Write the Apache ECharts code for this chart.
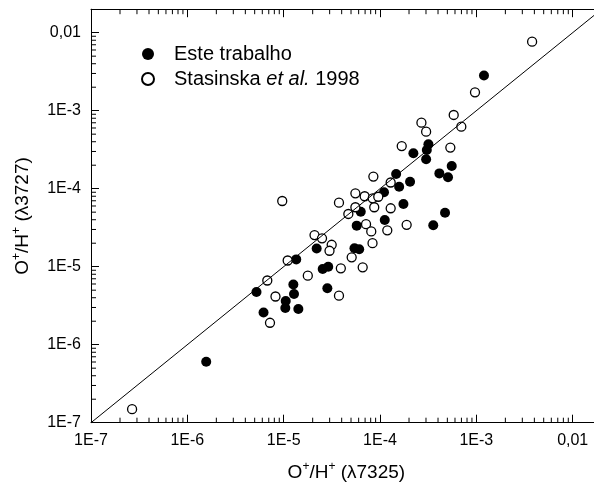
<!DOCTYPE html>
<html><head><meta charset="utf-8">
<script src="https://cdn.jsdelivr.net/npm/echarts@6/dist/echarts.min.js"></script>
<style>html,body{margin:0;padding:0;background:#fff;overflow:hidden}#c{width:594px;height:486px;overflow:hidden}</style>
</head><body><div id="c"></div>
<script>
// Este trabalho (filled)
const esteX = [1.20e-3, 3.18e-4, 3.06e-4, 2.22e-4, 3.01e-4, 5.55e-4, 4.13e-4, 5.08e-4, 1.47e-4, 2.05e-4,
  1.58e-4, 1.10e-4, 1.75e-4, 1.12e-4, 3.57e-4, 4.73e-4, 6.31e-5, 5.73e-5, 2.20e-5, 5.43e-5,
  6.08e-5, 1.35e-5, 2.54e-5, 2.90e-5, 1.26e-5, 1.28e-5, 2.84e-5, 5.22e-6, 1.05e-5, 1.04e-5,
  1.42e-5, 6.18e-6, 1.57e-6];
const esteY = [2.82e-3, 3.71e-4, 3.13e-4, 2.84e-4, 2.38e-4, 1.95e-4, 1.57e-4, 1.40e-4, 1.54e-4, 1.23e-4,
  1.06e-4, 9.0e-5, 6.37e-5, 3.97e-5, 3.40e-5, 4.92e-5, 5.07e-5, 3.36e-5, 1.71e-5, 1.72e-5,
  1.67e-5, 1.24e-5, 9.35e-6, 1.0e-5, 5.91e-6, 4.47e-6, 5.30e-6, 4.74e-6, 3.63e-6, 2.96e-6,
  2.87e-6, 2.59e-6, 6.05e-7];
// Stasinska et al. 1998 (open)
const stasX = [3.79e-3, 9.68e-4, 5.82e-4, 6.98e-4, 2.69e-4, 3.01e-4, 1.68e-4, 5.37e-4, 8.53e-5, 1.29e-4,
  5.55e-5, 6.93e-5, 8.39e-5, 9.59e-5, 3.75e-5, 9.66e-6, 5.55e-5, 8.71e-5, 1.29e-4, 4.69e-5,
  7.16e-5, 1.19e-4, 1.89e-4, 8.11e-5, 8.36e-5, 2.09e-5, 2.50e-5, 3.15e-5, 2.99e-5, 5.08e-5,
  6.61e-5, 3.92e-5, 1.10e-5, 1.78e-5, 6.76e-6, 3.75e-5, 8.22e-6, 7.21e-6, 2.67e-7];
const stasY = [7.67e-3, 1.72e-3, 8.81e-4, 6.24e-4, 7.02e-4, 5.38e-4, 3.52e-4, 3.37e-4, 1.43e-4, 1.20e-4,
  8.73e-5, 8.0e-5, 7.53e-5, 7.88e-5, 6.62e-5, 6.95e-5, 5.78e-5, 5.78e-5, 5.61e-5, 4.74e-5,
  3.51e-5, 2.93e-5, 3.44e-5, 2.83e-5, 2.0e-5, 2.54e-5, 2.31e-5, 1.91e-5, 1.60e-5, 1.32e-5,
  9.82e-6, 9.53e-6, 1.20e-5, 7.67e-6, 6.65e-6, 4.25e-6, 4.15e-6, 1.91e-6, 1.49e-7];
const tickExps = [-7, -6, -5, -4, -3, -2];
const tickLabels = ['1E-7', '1E-6', '1E-5', '1E-4', '1E-3', '0,01'];
const AX_MIN = 1e-7, AX_MAX = 0.02;

const MINOR = 5;
const FONT = '"Liberation Sans", Arial, sans-serif';
const minorData = [];
for (let k = -7; k <= -3; k++) {
  for (let m = 2; m <= 9; m++) {
    const v = m * Math.pow(10, k);
    minorData.push([v, AX_MIN, 0]);
    minorData.push([AX_MIN, v, 1]);
  }
}
function fmt(v) {
  const lg = Math.log10(v);
  const e = Math.round(lg);
  const i = tickExps.indexOf(e);
  if (i < 0 || Math.abs(lg - e) > 1e-6) return '';
  return tickLabels[i];
}
const nameRich = {
  b: { fontSize: 19, fontFamily: FONT, color: '#000', lineHeight: 24 },
  s: { fontSize: 12, fontFamily: FONT, color: '#000', lineHeight: 24, verticalAlign: 'top', padding: [0, 0, 9, 0] }
};
function axisBase() {
  return {
    type: 'log', logBase: 10, min: AX_MIN, max: AX_MAX, interval: 1,
    axisLine: { show: true, lineStyle: { color: '#000', width: 1 } },
    axisTick: { show: true, inside: true, length: 8, lineStyle: { color: '#000', width: 1 } },
    splitLine: { show: false },
    minorTick: { show: false }
  };
}
const chart = echarts.init(document.getElementById('c'));
chart.setOption({
  animation: false,
  backgroundColor: '#fff',
  grid: { left: 91, top: 9.2, width: 510.7, height: 413.5, containLabel: false, outerBoundsMode: 'none' },
  legend: {
    left: 136, top: 39, orient: 'vertical', itemWidth: 12, itemHeight: 12, itemGap: 5,
    icon: 'circle',
    data: ['Este trabalho', 'Stasinska et al. 1998'],
    formatter: function (n) {
      return n === 'Este trabalho' ? '{n|Este trabalho}' : '{n|Stasinska }{i|et al.}{n| 1998}';
    },
    textStyle: {
      fontSize: 20, fontFamily: FONT, color: '#000', lineHeight: 20, padding: [0, 0, 0, 15],
      rich: {
        n: { fontSize: 20, fontFamily: FONT, color: '#000', lineHeight: 20 },
        i: { fontSize: 20, fontFamily: FONT, color: '#000', fontStyle: 'italic', lineHeight: 20 }
      }
    }
  },
  xAxis: [
    Object.assign(axisBase(), {
      position: 'bottom',
      name: '{b|O}{s|+}{b|/H}{s|+}{b| (λ7325)}',
      nameLocation: 'middle', nameGap: 38,
      nameTextStyle: { rich: nameRich },
      axisLabel: { show: true, formatter: fmt, fontSize: 16, fontFamily: FONT, color: '#000', margin: 10, showMaxLabel: false }
    }),
    Object.assign(axisBase(), {
      position: 'top',
      axisLabel: { show: false }
    })
  ],
  yAxis: [
    Object.assign(axisBase(), {
      position: 'left',
      name: '{b|O}{s|+}{b|/H}{s|+}{b| (λ3727)}',
      nameLocation: 'middle', nameGap: 56,
      nameTextStyle: { rich: nameRich },
      axisLabel: { show: true, formatter: fmt, fontSize: 16, fontFamily: FONT, color: '#000', margin: 10, showMaxLabel: false }
    })
  ],
  series: [
    {
      name: 'Este trabalho', type: 'scatter', symbol: 'circle', symbolSize: 10, z: 2,
      itemStyle: { color: '#000', opacity: 1 },
      data: esteX.map((x, i) => [x, esteY[i]])
    },
    {
      name: 'Stasinska et al. 1998', type: 'scatter', symbol: 'circle', symbolSize: 9, z: 2,
      itemStyle: { color: '#fff', borderColor: '#000', borderWidth: 1.3, opacity: 1 },
      data: stasX.map((x, i) => [x, stasY[i]])
    },
    {
      name: 'diag', type: 'line', symbol: 'none', z: 3, silent: true,
      lineStyle: { color: '#000', width: 1 },
      data: [[AX_MIN, AX_MIN], [AX_MAX, AX_MAX]]
    },
    {
      name: 'minor', type: 'custom', silent: true, z: 4,
      data: minorData,
      renderItem: function (params, api) {
        const kind = api.value(2);
        const style = { stroke: '#000', lineWidth: 1 };
        if (kind === 0) {
          const v = api.value(0);
          const b = api.coord([v, AX_MIN]);
          const t = api.coord([v, AX_MAX]);
          return { type: 'group', children: [
            { type: 'line', shape: { x1: b[0], y1: b[1], x2: b[0], y2: b[1] - MINOR }, style: style },
            { type: 'line', shape: { x1: t[0], y1: t[1], x2: t[0], y2: t[1] + MINOR }, style: style }
          ] };
        } else {
          const v = api.value(1);
          const l = api.coord([AX_MIN, v]);
          return { type: 'line', shape: { x1: l[0], y1: l[1], x2: l[0] + MINOR, y2: l[1] }, style: style };
        }
      }
    }
  ]
});
</script>
</body></html>
